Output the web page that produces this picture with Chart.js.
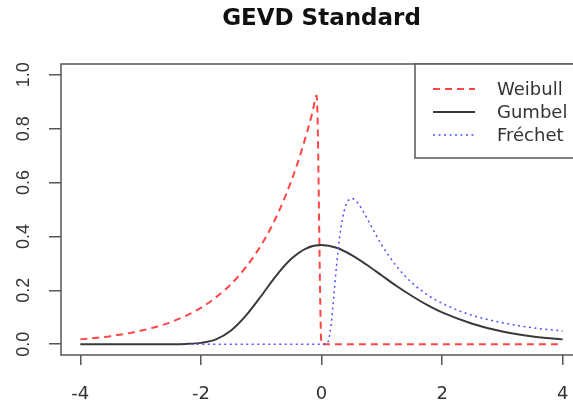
<!DOCTYPE html>
<html>
<head>
<meta charset="utf-8">
<script src="https://cdn.jsdelivr.net/npm/chart.js@4/dist/chart.umd.min.js"></script>
<style>
  html, body { margin: 0; padding: 0; background: #fff; overflow: hidden; }
  canvas { display: block; }
</style>
</head>
<body>
<canvas id="gevdChart" width="583" height="405"></canvas>
<script>
// values
var seriesNames = ['Weibull', 'Gumbel', 'Fréchet'];

var weibullX = [-4, -3.5, -3, -2.5, -2, -1.75, -1.5, -1.25, -1, -0.8, -0.6, -0.4, -0.25, -0.15, -0.08, 0, 4];
var weibullY = [0.018, 0.030, 0.050, 0.082, 0.135, 0.174, 0.223, 0.287, 0.368, 0.449, 0.549, 0.670, 0.779, 0.861, 0.923, 0, 0];

var gumbelX = [-4, -3, -2.5, -2.25, -2, -1.75, -1.5, -1.25, -1, -0.75, -0.5, -0.25, 0, 0.25, 0.5, 0.75, 1, 1.25, 1.5, 1.75, 2, 2.5, 3, 3.5, 4];
var gumbelY = [0, 0, 0, 0.001, 0.005, 0.018, 0.051, 0.107, 0.179, 0.255, 0.317, 0.356, 0.368, 0.358, 0.331, 0.295, 0.255, 0.215, 0.179, 0.146, 0.118, 0.076, 0.047, 0.029, 0.018];

var frechetX = [-2.16, 0, 0.08, 0.12, 0.16, 0.2, 0.25, 0.3, 0.35, 0.4, 0.45, 0.5, 0.6, 0.7, 0.8, 1, 1.25, 1.5, 1.75, 2, 2.5, 3, 3.5, 4];
var frechetY = [0, 0, 0.001, 0.017, 0.075, 0.168, 0.293, 0.396, 0.468, 0.513, 0.535, 0.541, 0.525, 0.489, 0.448, 0.368, 0.288, 0.228, 0.184, 0.152, 0.107, 0.080, 0.061, 0.049];

var xTicks = [-4, -2, 0, 2, 4];
var yTicks = [0, 0.2, 0.4, 0.6, 0.8, 1.0];

function pts(xs, ys) {
  return xs.map(function (x, i) { return { x: x, y: ys[i] }; });
}

// box, title and legend the way R draws them
var rFrame = {
  id: 'rFrame',
  afterDraw: function (chart) {
    var ctx = chart.ctx;
    var a = chart.chartArea;
    ctx.save();
    ctx.strokeStyle = '#555';
    ctx.lineWidth = 1.5;
    ctx.strokeRect(a.left, a.top, a.right - a.left, a.bottom - a.top);

    // title
    ctx.fillStyle = '#111';
    ctx.font = 'bold 23px "DejaVu Sans"';
    ctx.textAlign = 'center';
    ctx.textBaseline = 'middle';
    ctx.fillText('GEVD Standard', (a.left + a.right) / 2, 19);

    // legend
    ctx.fillStyle = '#fff';
    ctx.fillRect(415, a.top, 200, 94);
    ctx.strokeRect(415, a.top, 200, 94);
    ctx.font = '18px "DejaVu Sans"';
    ctx.textAlign = 'left';
    var rows = [89, 112, 135];
    chart.data.datasets.forEach(function (ds, i) {
      ctx.save();
      ctx.strokeStyle = ds.borderColor;
      ctx.lineWidth = ds.borderWidth;
      ctx.setLineDash(ds.borderDash || []);
      ctx.beginPath();
      ctx.moveTo(433, rows[i]);
      ctx.lineTo(475, rows[i]);
      ctx.stroke();
      ctx.restore();
      ctx.fillStyle = '#333';
      ctx.fillText(ds.label, 497, rows[i] + 1);
    });
    ctx.restore();
  }
};

var ctx = document.getElementById('gevdChart').getContext('2d');
var gevdChart = new Chart(ctx, {
  type: 'line',
  data: {
    datasets: [{
      label: seriesNames[0],
      data: pts(weibullX, weibullY),
      borderColor: '#ff4545',
      borderWidth: 2,
      borderDash: [7, 5],
      order: 3
    }, {
      label: seriesNames[1],
      data: pts(gumbelX, gumbelY),
      borderColor: '#3a3a3a',
      borderWidth: 2,
      order: 2
    }, {
      label: seriesNames[2],
      data: pts(frechetX, frechetY),
      borderColor: '#5050ff',
      borderWidth: 1.5,
      borderDash: [2, 3.5],
      order: 1
    }]
  },
  options: {
    responsive: false,
    animation: false,
    cubicInterpolationMode: 'monotone',
    elements: {
      point: { radius: 0 },
      line: { fill: false }
    },
    layout: {
      padding: { top: 64, right: 1, bottom: 0, left: 0 }
    },
    plugins: {
      legend: { display: false },
      title: { display: false },
      tooltip: { enabled: false }
    },
    scales: {
      x: {
        type: 'linear',
        min: -4.32,
        max: 4.32,
        afterBuildTicks: function (scale) {
          scale.ticks = xTicks.map(function (v) { return { value: v }; });
        },
        afterFit: function (scale) {
          scale.height = 50;
          scale.paddingLeft = 0;
          scale.paddingRight = 0;
        },
        border: { display: false },
        grid: {
          drawOnChartArea: false,
          tickLength: 10,
          color: '#555',
          lineWidth: 1.5
        },
        ticks: {
          color: '#333',
          padding: 19,
          maxRotation: 0,
          font: { family: 'DejaVu Sans', size: 18 },
          callback: function (v) { return String(v); }
        }
      },
      y: {
        min: -0.04,
        max: 1.04,
        afterBuildTicks: function (scale) {
          scale.ticks = yTicks.map(function (v) { return { value: v }; });
        },
        afterFit: function (scale) {
          scale.width = 61;
          scale.paddingTop = 0;
          scale.paddingBottom = 0;
        },
        border: { display: false },
        grid: {
          drawOnChartArea: false,
          tickLength: 12,
          color: '#555',
          lineWidth: 1.5
        },
        ticks: {
          color: '#333',
          padding: 12,
          minRotation: 90,
          maxRotation: 90,
          crossAlign: 'center',
          font: { family: 'Liberation Sans', size: 18 },
          callback: function (v) { return v.toFixed(1); }
        }
      }
    }
  },
  plugins: [rFrame]
});
</script>
</body>
</html>
